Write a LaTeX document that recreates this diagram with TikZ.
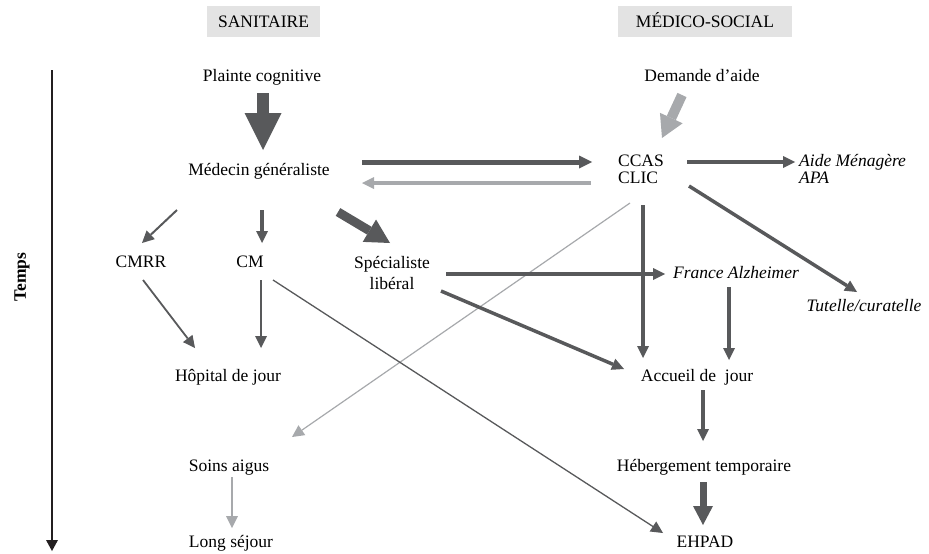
\documentclass[tikz,border=0pt]{standalone}
\usepackage{fontspec}
\setmainfont{Liberation Serif}
\usetikzlibrary{arrows.meta,calc}
\definecolor{dk}{HTML}{58595B}
\definecolor{lt}{HTML}{A7A9AC}
\definecolor{tl}{HTML}{231F20}
\definecolor{hdr}{HTML}{E3E3E3}
\begin{document}
\begin{tikzpicture}[x=1pt,y=-1pt,
  lbl/.style={inner sep=0pt, font=\fontsize{17.5}{18}\selectfont, anchor=base, text=black},
  ilbl/.style={lbl, font=\fontsize{17.5}{18}\selectfont\itshape},
  hdrbox/.style={fill=hdr, inner sep=0pt, minimum height=31pt, text height=12pt, text depth=0pt, font=\fontsize{17.5}{18}\selectfont},
  ar/.style={draw=dk, line width=#1pt, -{Triangle[width=12pt,length=12pt,line width=0pt]}},
  la/.style={draw=lt, line width=#1pt, -{Triangle[width=12pt,length=12pt,line width=0pt]}},
  blk/.style n args={4}{draw=#1, line width=#2pt, -{Triangle[width=#3pt,length=#4pt,line width=0pt]}}
]
\useasboundingbox (0,0) rectangle (929,554);

% headers
\node[hdrbox, minimum width=113pt] (san) at (263.5,21.5) {SANITAIRE};
\node[hdrbox, minimum width=174pt] (msoc) at (705,21.5) {MÉDICO-SOCIAL};

% time axis
\coordinate (tstart) at (52,70);
\coordinate (tend) at (52,551);
\draw[draw=tl, line width=2pt, -{Triangle[width=12pt,length=11pt,line width=0pt]}] (tstart) -- (tend);
\node[inner sep=0pt, font=\fontsize{17.5}{18}\selectfont\bfseries, rotate=90] (temps) at (22,277) {Temps};

% nodes
\node[lbl] (plainte) at (262,81.7) {Plainte cognitive};
\node[lbl] (medecin) at (259,175) {Médecin généraliste};
\node[lbl] (demande) at (702,81.7) {Demande d’aide};
\node[inner sep=0pt, font=\fontsize{17.5}{17.5}\selectfont, align=left] (ccas) at (641,169.5) {CCAS\\CLIC};
\node[inner sep=0pt, font=\fontsize{17.5}{17}\selectfont\itshape, align=left, anchor=west] (aide) at (799,168.5) {Aide Ménagère\\APA};
\node[lbl] (cmrr) at (141,267.3) {CMRR};
\node[lbl] (cm) at (250,267.3) {CM};
\node[inner sep=0pt, font=\fontsize{17.5}{20.5}\selectfont, align=center] (spec) at (392,273) {Spécialiste\\libéral};
\node[ilbl] (france) at (736,278.3) {France Alzheimer};
\node[ilbl] (tutelle) at (864,311.7) {Tutelle/curatelle};
\node[lbl] (hopital) at (228,381.7) {Hôpital de jour};
\node[lbl] (accueil) at (697,381.7) {Accueil de\ \ jour};
\node[lbl] (soins) at (229,471) {Soins aigus};
\node[lbl] (heberg) at (704,471) {Hébergement temporaire};
\node[lbl] (longs) at (231,547) {Long séjour};
\node[lbl] (ehpad) at (705,547) {EHPAD};

% block arrows
\draw[blk={dk}{12}{37}{37}] ($(plainte.base)+(1,11.3)$) -- ($(medecin.base)+(4,-25)$);
\draw[blk={lt}{10}{25}{22}] ($(demande.base)+(-20,13.3)$) -- ($(ccas.center)+(21,-31.5)$);
\draw[blk={dk}{9}{26}{24}] ($(medecin.base)+(79,37)$) -- ($(spec.center)+(-2,-30)$);
\draw[blk={dk}{7}{20}{19}] ($(heberg.base)+(-1,11)$) -- ($(ehpad.base)+(-2,-22)$);

% horizontal links
\draw[ar=5, -{Triangle[width=13pt,length=13pt,line width=0pt]}] ($(medecin.base)+(103,-13)$) -- ($(ccas.center)+(-49,-7.5)$);
\draw[la=4] ($(ccas.center)+(-50,13.5)$) -- ($(medecin.base)+(103,8)$);
\draw[ar=3.5] ($(ccas.center)+(46,-7.5)$) -- ($(aide.west)+(-4,-6.5)$);

% from CCAS
\draw[ar=3.5] ($(ccas.center)+(48,16.5)$) -- ($(tutelle.base)+(-7,-19.7)$);
\draw[ar=3.5] ($(ccas.center)+(2,35.5)$) -- ($(accueil.base)+(-54,-23.7)$);
\draw[la=1.2] ($(ccas.center)+(-11,33.5)$) -- ($(soins.base)+(63,-34)$);

% from Medecin
\draw[ar=2] ($(medecin.base)+(-82,35)$) -- ($(cmrr.base)+(1,-24.3)$);
\draw[ar=4] ($(medecin.base)+(3,35)$) -- ($(cm.base)+(12,-24.3)$);

% second level
\draw[ar=1.8] ($(cmrr.base)+(2,12.7)$) -- ($(hopital.base)+(-33,-33.7)$);
\draw[ar=2] ($(cm.base)+(11,12.7)$) -- ($(hopital.base)+(33,-33.7)$);
\draw[ar=1.3] ($(cm.base)+(23,12.7)$) -- ($(ehpad.base)+(-42,-14)$);
\draw[ar=3.5] ($(spec.center)+(54,1)$) -- ($(france.base)+(-71,-4.3)$);
\draw[ar=3.5] ($(spec.center)+(49,18)$) -- ($(accueil.base)+(-73,-12.7)$);
\draw[ar=3.5] ($(france.base)+(-7,8.7)$) -- ($(accueil.base)+(32,-21.7)$);
\draw[ar=3.5] ($(accueil.base)+(6,8.3)$) -- ($(heberg.base)+(-1,-30)$);
\draw[la=1.5] ($(soins.base)+(3,6)$) -- ($(longs.base)+(1,-19)$);
\end{tikzpicture}
\end{document}
